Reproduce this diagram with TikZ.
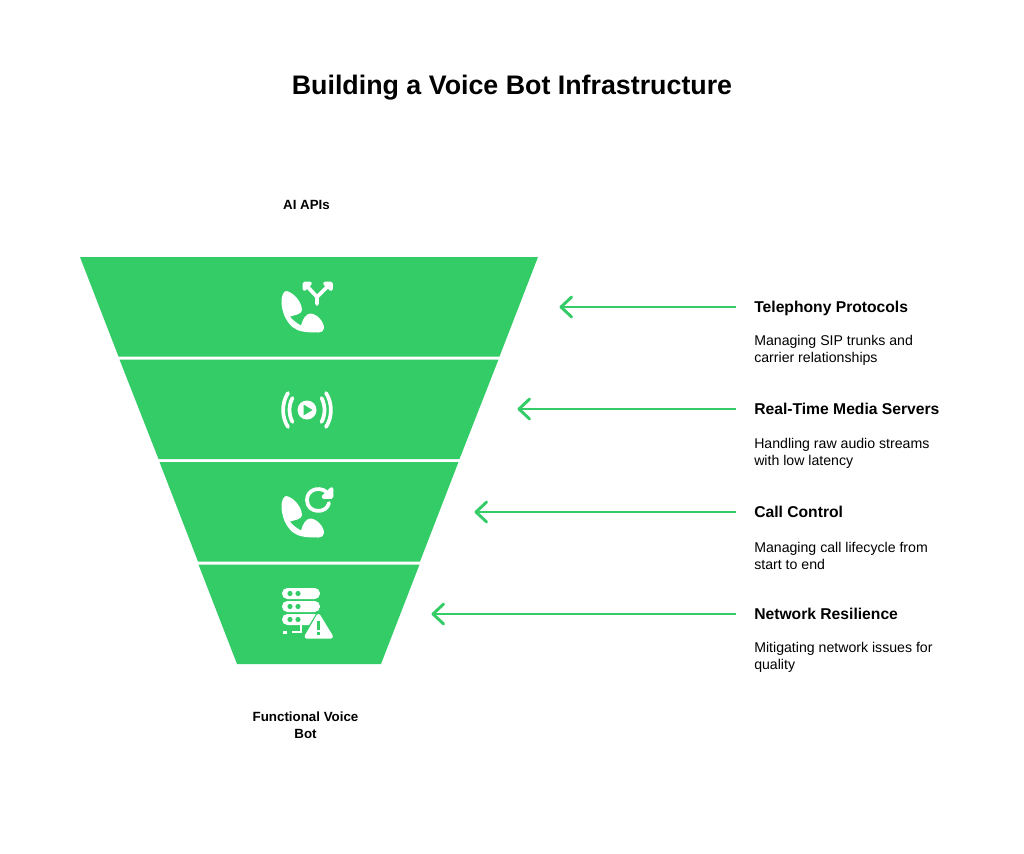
\documentclass[tikz,border=0pt]{standalone}
\usepackage{fontspec}
\setmainfont{Liberation Sans}
\usetikzlibrary{arrows.meta}
\definecolor{funnelgreen}{HTML}{33CC66}
\tikzset{>/.tip={Straight Barb[length=8pt,width=15pt,round]},
  seg/.style={fill=funnelgreen},
  lead/.style={->,draw=funnelgreen,line width=2.2pt,shorten <=13.5pt},
  head/.style={anchor=west,inner sep=0pt,text height=9pt,text depth=1pt,font=\fontsize{11.75pt}{14pt}\bfseries},
  desc/.style={anchor=west,inner sep=0pt,align=left,font=\fontsize{10.6pt}{12.75pt}\selectfont},
  endlabel/.style={inner sep=0pt,align=center,font=\fontsize{10pt}{12.75pt}\bfseries},
  stroke/.style={draw=white,line width=2.8pt,line cap=round,line join=round},
  pics/phone/.style={code={
    \fill[white] (0,10) .. controls (0,5) and (2,0) .. (5,0)
      .. controls (13,2) and (20,11) .. (20.5,19)
      .. controls (20.5,23) and (14,24) .. (8.5,25.5)
      .. controls (11,29) and (15,32) .. (19.5,34.5)
      .. controls (21,29) and (24,22.5) .. (29,22.5)
      .. controls (36,23) and (42.5,31) .. (42.5,37)
      .. controls (42.5,40) and (40,41.5) .. (37,41.5)
      .. controls (25,41.5) and (17,41) .. (11,36)
      .. controls (4,30) and (0,20) .. (0,10) -- cycle;
  }}
}
\begin{document}
\begin{tikzpicture}[x=0.75pt,y=-0.75pt]
\useasboundingbox (0,0) rectangle (1024,853);

\node[inner sep=0pt,font=\fontsize{20.1pt}{24pt}\bfseries] (title) at (512,88) {Building a Voice Bot Infrastructure};
\node[endlabel] (top) at (306.5,205) {AI APIs};
\node[endlabel] (bottom) at (305.5,725.5) {Functional Voice\\Bot};

% funnel
\path[seg] (80,257) -- (538,257) -- (499.5,356.5) -- (118.5,356.5) -- cycle;
\path[seg] (119.5,359.5) -- (498.5,359.5) -- (459.5,459) -- (158.5,459) -- cycle;
\path[seg] (159.5,462) -- (458.5,462) -- (420,561.5) -- (198,561.5) -- cycle;
\path[seg] (198.5,564.5) -- (419.5,564.5) -- (381,664) -- (237,664) -- cycle;

% call split
\pic at (281.5,291) {phone};
\draw[stroke] (317,304) -- (317,297) -- (306,285);
\draw[stroke] (317,297) -- (329,285);
\draw[stroke,fill=white] (304.5,289) -- (304.5,283.5) -- (310,283.5) -- cycle;
\draw[stroke,fill=white] (325,283.5) -- (331,283.5) -- (331,289) -- cycle;

% media
\fill[white] (307,410) circle[radius=9.5];
\fill[funnelgreen] (303.5,404.5) -- (312.5,410) -- (303.5,415.5) -- cycle;
\draw[stroke] (292.5,398) .. controls (288.5,405) and (288.5,415) .. (292.5,422);
\draw[stroke] (321.5,398) .. controls (325.5,405) and (325.5,415) .. (321.5,422);
\draw[stroke] (288,393) .. controls (281.5,403) and (281.5,417) .. (288,427);
\draw[stroke] (326,393) .. controls (332.5,403) and (332.5,417) .. (326,427);

% call retry
\pic at (281.5,496) {phone};
\draw[stroke] (326,491.5) .. controls (318,486) and (307,490) .. (307,500) .. controls (307,514) and (327,514) .. (329,503);
\draw[stroke,fill=white] (331.5,489) -- (331.5,497) -- (323.5,497) -- cycle;

% servers
\fill[white,rounded corners=4pt] (282,588) rectangle (320,599);
\fill[white,rounded corners=4pt] (282,601) rectangle (320,612);
\fill[white,rounded corners=4pt] (282,614) rectangle (320,625);
\foreach \ypos in {593.5,606.5,619.5} {
  \fill[funnelgreen] (290,\ypos) circle[radius=2.6];
  \fill[funnelgreen] (298,\ypos) circle[radius=2.6];
}
\fill[white] (283,631) rectangle (287,633.5);
\draw[white,line width=1.4pt] (292,632) -- (301,632) -- (301,625);
\draw[funnelgreen,line width=3pt,line join=round,fill=funnelgreen] (319,613) -- (303,639) -- (334,639) -- cycle;
\draw[white,fill=white,line width=3pt,line join=round] (318.5,616) -- (306.5,636.5) -- (331,636.5) -- cycle;
\fill[funnelgreen] (317,621) rectangle (320.2,630);
\fill[funnelgreen] (317,632) rectangle (320.2,635);

% labels
\node[head] (telephony) at (754,307) {Telephony Protocols};
\node[desc] (telephony-d) at (754,350.5) {Managing SIP trunks and\\carrier relationships};
\node[head] (media) at (754,409) {Real-Time Media Servers};
\node[desc] (media-d) at (754,453) {Handling raw audio streams\\with low latency};
\node[head] (control) at (754,512) {Call Control};
\node[desc] (control-d) at (754,555.5) {Managing call lifecycle from\\start to end};
\node[head] (network) at (754,614) {Network Resilience};
\node[desc] (network-d) at (754,657.5) {Mitigating network issues for\\quality};

\coordinate (tip1) at (559.5,307);
\coordinate (tip2) at (517.5,409);
\coordinate (tip3) at (474.5,512);
\coordinate (tip4) at (431.5,614);
\draw[lead] (telephony.west) -- (tip1);
\draw[lead] (media.west) -- (tip2);
\draw[lead] (control.west) -- (tip3);
\draw[lead] (network.west) -- (tip4);
\end{tikzpicture}
\end{document}
